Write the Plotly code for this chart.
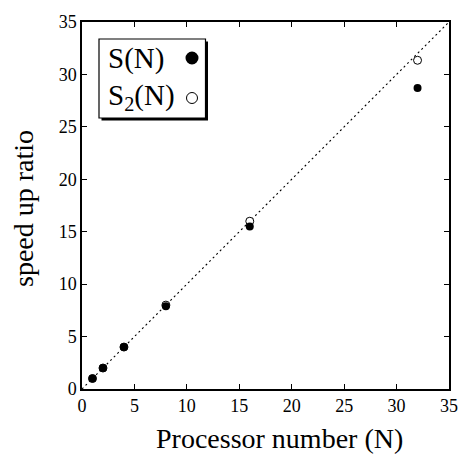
import plotly.graph_objects as go

# Data
processors = [1, 2, 4, 8, 16, 32]
speedup_S = [1.0, 2.0, 4.0, 7.9, 15.5, 28.7]
speedup_S2 = [1.0, 2.0, 4.0, 8.0, 16.0, 31.35]
ideal_x = [0, 35]
ideal_y = [0, 35]
tick_vals = [0, 5, 10, 15, 20, 25, 30, 35]

FONT = "Liberation Serif"

fig = go.Figure()

fig.add_trace(go.Scatter(
    x=ideal_x, y=ideal_y, mode="lines",
    line=dict(color="black", width=1.1, dash="2px,3px"),
    hoverinfo="skip", showlegend=False))

fig.add_trace(go.Scatter(
    x=processors, y=speedup_S2, mode="markers", name="S2(N)",
    marker=dict(symbol="circle", size=8, color="white",
                line=dict(color="black", width=1)),
    showlegend=False))

fig.add_trace(go.Scatter(
    x=processors, y=speedup_S, mode="markers", name="S(N)",
    marker=dict(symbol="circle", size=8, color="black",
                line=dict(color="black", width=0)),
    showlegend=False))

# Plot area in pixels
W, H = 460, 457
L, R, T, B = 82, 11, 22, 68
pw, ph = W - L - R, H - T - B


def px(xp):
    return (xp - L) / pw


def py(yp):
    return (H - B - yp) / ph


shapes = []
# legend shadow
shapes.append(dict(type="rect", xref="paper", yref="paper",
                   x0=px(101.5), x1=px(208), y0=py(120.5), y1=py(41.5),
                   line=dict(width=0), fillcolor="black", layer="above"))
# legend box
shapes.append(dict(type="rect", xref="paper", yref="paper",
                   x0=px(99), x1=px(205.5), y0=py(118), y1=py(39),
                   line=dict(width=1.2, color="black"), fillcolor="white",
                   layer="above"))
# legend markers
r1 = 6.5
shapes.append(dict(type="circle", xref="paper", yref="paper",
                   x0=px(192 - r1), x1=px(192 + r1),
                   y0=py(58 + r1), y1=py(58 - r1),
                   line=dict(width=0), fillcolor="black", layer="above"))
r2 = 5.5
shapes.append(dict(type="circle", xref="paper", yref="paper",
                   x0=px(192 - r2), x1=px(192 + r2),
                   y0=py(98 + r2), y1=py(98 - r2),
                   line=dict(width=1, color="black"), fillcolor="white",
                   layer="above"))

annotations = [
    dict(text="S(N)", xref="paper", yref="paper", x=px(106), y=py(58),
         xanchor="left", yanchor="middle", showarrow=False,
         font=dict(family=FONT, size=29, color="black")),
    dict(text="S<sub>2</sub>(N)", xref="paper", yref="paper", x=px(106), y=py(97),
         xanchor="left", yanchor="middle", showarrow=False,
         font=dict(family=FONT, size=29, color="black")),
    dict(text="Processor number (N)", xref="paper", yref="paper",
         x=px(279), y=py(438), xanchor="center", yanchor="middle",
         showarrow=False, font=dict(family=FONT, size=28, color="black")),
    dict(text="speed up ratio", xref="paper", yref="paper", textangle=-90,
         x=px(23), y=py(209), xanchor="center", yanchor="middle",
         showarrow=False, font=dict(family=FONT, size=28, color="black")),
]

axis_common = dict(
    range=[0, 35], tickvals=tick_vals, ticks="inside", ticklen=5,
    tickwidth=1, tickcolor="black", showline=True, linecolor="black",
    linewidth=1.5, mirror="ticks", showgrid=False, zeroline=False,
    automargin=False,
    tickfont=dict(family=FONT, size=18, color="black"),
)

fig.update_layout(
    width=W, height=H,
    margin=dict(l=L, r=R, t=T, b=B, autoexpand=False),
    paper_bgcolor="white", plot_bgcolor="white",
    font=dict(family=FONT, color="black"),
    shapes=shapes, annotations=annotations,
    xaxis=dict(**axis_common),
    yaxis=dict(**axis_common),
    showlegend=False,
)

fig.write_html("out.html", config={"displayModeBar": False},
               post_script="document.body.style.margin='0';document.body.style.padding='0';")
